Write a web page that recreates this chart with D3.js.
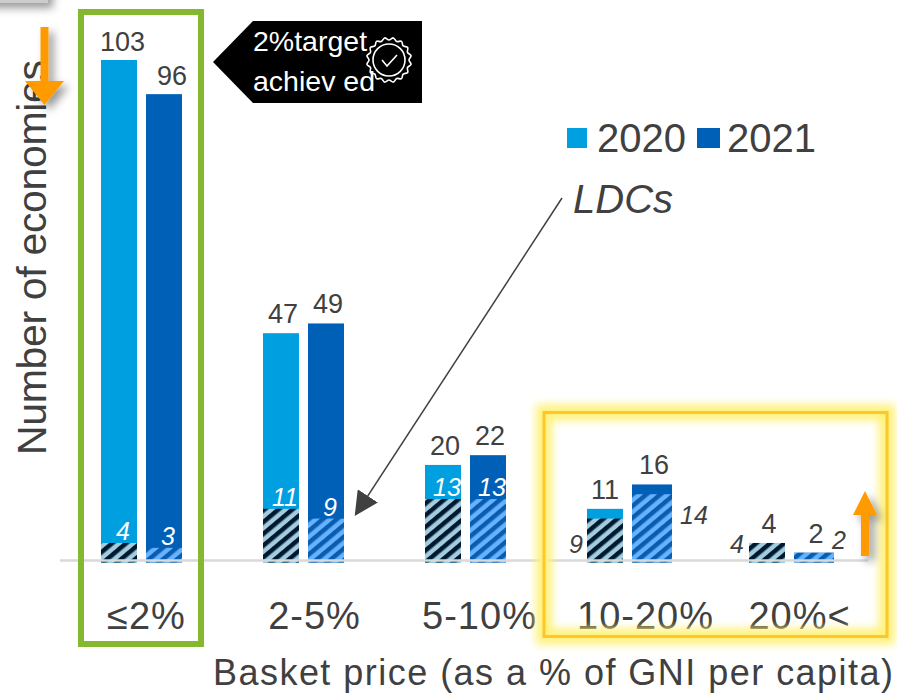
<!DOCTYPE html>
<html>
<head>
<meta charset="utf-8">
<script src="https://cdn.jsdelivr.net/npm/d3@7/dist/d3.min.js"></script>
<style>
html,body{margin:0;padding:0;background:#fff}
svg{display:block}
text{font-family:"Liberation Sans",Arial,sans-serif;fill:#404040}
</style>
</head>
<body>
<div id="chart"></div>
<script>
const categories = ["≤2%", "2-5%", "5-10%", "10-20%", "20%<"];
const years = ["2020", "2021"];
const values2020 = [103, 47, 20, 11, 4];
const values2021 = [96, 49, 22, 16, 2];
const ldc2020 = [4, 11, 13, 9, 4];
const ldc2021 = [3, 9, 13, 14, 2];
const yearColors = ["#00a0e0", "#0060b8"];

const W = 897, H = 696, baseY = 562.5;
const svg = d3.select("#chart").append("svg").attr("width", W).attr("height", H);
const defs = svg.append("defs");

function addPattern(id, bg, fg) {
  const p = defs.append("pattern").attr("id", id).attr("patternUnits", "userSpaceOnUse")
    .attr("width", 9).attr("height", 9).attr("patternTransform", "rotate(-40)");
  p.append("rect").attr("width", 9).attr("height", 9).attr("fill", bg);
  p.append("rect").attr("width", 9).attr("height", 4.5).attr("fill", fg);
}
addPattern("ldc2020", "#a3cddb", "#001833");
addPattern("ldc2021", "#66b2ff", "#0a5cae");

const blur = defs.append("filter").attr("id", "shadow").attr("x", "-50%").attr("y", "-50%").attr("width", "200%").attr("height", "200%");
blur.append("feDropShadow").attr("dx", 5).attr("dy", 5).attr("stdDeviation", 4).attr("flood-color", "#000").attr("flood-opacity", 0.4);
const glow = defs.append("filter").attr("id", "glow").attr("x", "-10%").attr("y", "-10%").attr("width", "120%").attr("height", "120%");
glow.append("feGaussianBlur").attr("stdDeviation", 4);

const x0 = d3.scaleBand().domain(categories).range([60.5, 870.5]);
const x1 = d3.scaleBand().domain(years).range([40.5, 121.5]).paddingInner(0.2);
const y = d3.scaleLinear().domain([0, 103]).range([baseY, 60]);

// top-left remnant of a cropped shape
svg.append("rect").attr("x", -20).attr("y", -30).attr("width", 68).attr("height", 33).attr("fill", "#ccc").attr("filter", "url(#shadow)");

const series = [
  { year: "2020", total: values2020, ldc: ldc2020, color: yearColors[0], pat: "ldc2020" },
  { year: "2021", total: values2021, ldc: ldc2021, color: yearColors[1], pat: "ldc2021" }
];

series.forEach(s => {
  const bw = (i) => x1.bandwidth() + (s.year === "2021" && i >= 3 ? 4 : 0);
  const bx = (i) => x0(categories[i]) + x1(s.year);
  svg.append("g").selectAll("rect").data(s.total).join("rect")
    .attr("x", (d, i) => bx(i)).attr("width", (d, i) => bw(i))
    .attr("y", d => y(d)).attr("height", d => baseY - y(d)).attr("fill", s.color);
  svg.append("g").selectAll("rect").data(s.ldc).join("rect")
    .attr("x", (d, i) => bx(i)).attr("width", (d, i) => bw(i))
    .attr("y", (d, i) => y(Math.min(d, s.total[i]))).attr("height", (d, i) => baseY - y(Math.min(d, s.total[i])))
    .attr("fill", `url(#${s.pat})`);
  svg.append("g").selectAll("text").data(s.total).join("text")
    .attr("x", (d, i) => bx(i) + bw(i) / 2 + (i === 0 ? (s.year === "2021" ? 8 : 3.5) : (i === 3 && s.year === "2020" ? 0 : 2)))
    .attr("y", (d, i) => y(d) - (i === 0 ? 9 : 10))
    .attr("text-anchor", "middle").attr("font-size", 27).text(d => d);
});

// baseline, drawn over the bars
svg.append("line").attr("x1", 60).attr("x2", 868).attr("y1", 560.5).attr("y2", 560.5)
  .attr("stroke", "#d9d9d9").attr("stroke-width", 2.5);

// LDC value labels: white inside the first three groups, grey beside the last two
const ldcInsideCount = 3;
series.forEach(s => {
  const idx = s.year === "2020" ? 0 : 1;
  svg.append("g").selectAll("text").data(s.ldc).join("text")
    .attr("font-size", 25).attr("font-style", "italic")
    .attr("text-anchor", "middle")
    .style("fill", (d, i) => i < ldcInsideCount ? "#fff" : "#404040")
    .attr("x", (d, i) => {
      const c = x0(categories[i]) + x1(s.year) + x1.bandwidth() / 2;
      if (i < ldcInsideCount) return c + 4;
      if (i === 3) return idx === 0 ? c - 29 : c + 44;
      return idx === 0 ? c - 30 : c + 27;
    })
    .attr("y", (d, i) => {
      if (i < ldcInsideCount) return y(d) - 3;
      if (i === 3) return idx === 0 ? 553 : 524;
      return idx === 0 ? 553 : 549;
    })
    .text(d => d);
});

// category labels
const catNudge = [5, 11, 14, 18, 10];
svg.append("g").selectAll("text").data(categories).join("text")
  .attr("x", (d, i) => x0(d) + x0.bandwidth() / 2 + catNudge[i]).attr("y", 629)
  .attr("text-anchor", "middle").attr("font-size", 38).attr("letter-spacing", 1).text(d => d);

// axis titles
svg.append("text").attr("x", 213).attr("y", 685).attr("font-size", 36)
  .attr("textLength", 680).attr("lengthAdjust", "spacing")
  .text("Basket price (as a % of GNI per capita)");
svg.append("text").attr("transform", "translate(46,455) rotate(-90)").attr("font-size", 41)
  .attr("textLength", 395).attr("lengthAdjust", "spacing")
  .text("Number of economies");

// highlight boxes
svg.append("rect").attr("x", 81).attr("y", 12).attr("width", 120).attr("height", 632)
  .attr("fill", "none").attr("stroke", "#84b92f").attr("stroke-width", 6);
svg.append("rect").attr("x", 544).attr("y", 412.5).attr("width", 343).attr("height", 224)
  .attr("fill", "none").attr("stroke", "#fff27a").attr("stroke-width", 16).attr("filter", "url(#glow)");
svg.append("rect").attr("x", 544).attr("y", 412.5).attr("width", 343).attr("height", 224)
  .attr("fill", "none").attr("stroke", "#ffc62a").attr("stroke-width", 3);

// legend
series.forEach((s, i) => {
  const lx = [567, 697][i];
  svg.append("rect").attr("x", lx).attr("y", 128).attr("width", [20, 23][i]).attr("height", 20).attr("fill", s.color);
  svg.append("text").attr("x", lx + 30).attr("y", 152).attr("font-size", 40).text(s.year);
});

// LDC arrow
svg.append("text").attr("x", 573).attr("y", 213).attr("font-size", 40).attr("font-style", "italic").text("LDCs");
defs.append("marker").attr("id", "head").attr("viewBox", "0 0 10 10").attr("refX", 9).attr("refY", 5)
  .attr("markerUnits", "userSpaceOnUse").attr("markerWidth", 24).attr("markerHeight", 24).attr("orient", "auto")
  .append("path").attr("d", "M0,0L10,5L0,10Z").attr("fill", "#404040");
svg.append("line").attr("x1", 562).attr("y1", 198).attr("x2", 356).attr("y2", 514)
  .attr("stroke", "#404040").attr("stroke-width", 1.5).attr("marker-end", "url(#head)");

// target badge
svg.append("path").attr("d", "M213,62L253,21L422,21L422,103L253,103Z").attr("fill", "#000");
svg.append("text").attr("x", 253).attr("y", 51).attr("font-size", 28.5).style("fill", "#fff").text("2%target");
svg.append("text").attr("x", 253).attr("y", 91).attr("font-size", 28.5).style("fill", "#fff").text("achiev ed");
const badge = svg.append("g").attr("transform", "translate(389,60)");
const spikes = d3.range(32).map(i => {
  const r = i % 2 ? 22.5 : 20, a = i / 32 * 2 * Math.PI;
  return [r * Math.cos(a), r * Math.sin(a)];
});
badge.append("path").attr("d", d3.line().curve(d3.curveCardinalClosed)(spikes)).attr("fill", "none").attr("stroke", "#fff").attr("stroke-width", 1.6);
badge.append("circle").attr("r", 16).attr("fill", "none").attr("stroke", "#fff").attr("stroke-width", 1.6);
badge.append("path").attr("d", "M-7,0L-2,6L8,-5").attr("fill", "none").attr("stroke", "#fff").attr("stroke-width", 1.6);

// direction arrows
function blockArrow(cx, tipY, tailY, headW, headH, shaft) {
  const dir = tailY > tipY ? 1 : -1;
  const p = d3.path();
  p.moveTo(cx, tipY);
  p.lineTo(cx + headW / 2, tipY + dir * headH);
  p.lineTo(cx + shaft / 2, tipY + dir * headH);
  p.lineTo(cx + shaft / 2, tailY);
  p.lineTo(cx - shaft / 2, tailY);
  p.lineTo(cx - shaft / 2, tipY + dir * headH);
  p.lineTo(cx - headW / 2, tipY + dir * headH);
  p.closePath();
  svg.append("path").attr("d", p.toString()).attr("fill", "#ff9a00").attr("filter", "url(#shadow)");
}
blockArrow(44.5, 105, 27, 39, 24, 8);
blockArrow(865, 491, 556, 24, 24, 8);
</script>
</body>
</html>
